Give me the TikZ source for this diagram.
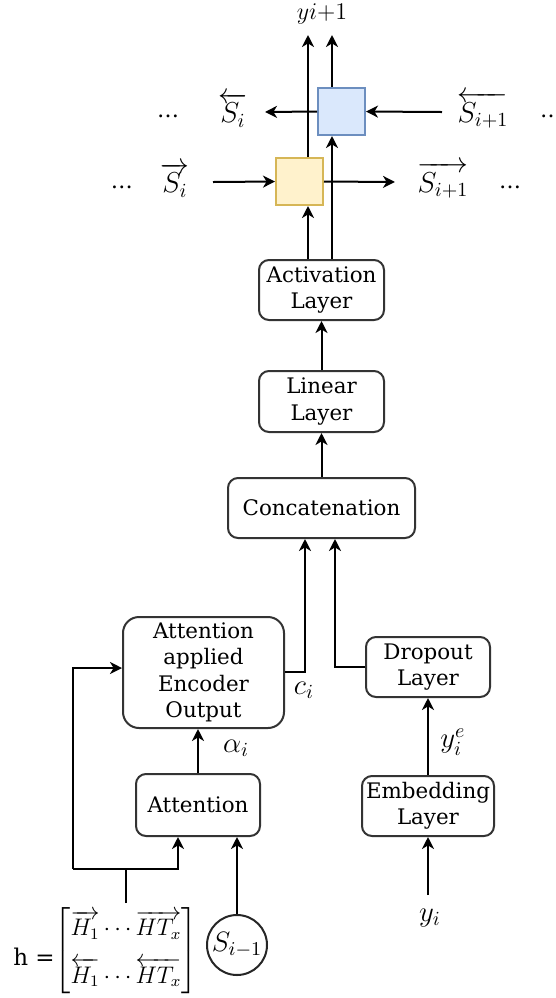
\RequirePackage{fix-cm}
\documentclass[tikz,border=0pt]{standalone}
\usepackage{fontspec}
\setmainfont{DejaVu Serif}
\usepackage{amsmath}
\usetikzlibrary{arrows.meta,calc}
\begin{document}
\begin{tikzpicture}[x=0.5pt,y=-0.5pt,
  arr/.style={-{Stealth[length=6pt,width=6pt,inset=1.8pt]}, line width=1pt},
  ln/.style={line width=1pt},
  box/.style={draw=black!80, line width=1pt, rounded corners=5pt, align=center, font=\fontsize{10.7}{13.2}\selectfont, inner sep=0pt},
  lbl/.style={inner sep=0pt, font=\fontsize{14.4}{16}\selectfont},
  dots/.style={inner sep=0pt, font=\fontsize{11}{13}\selectfont}]
\useasboundingbox (0,0) rectangle (556,998);
% boxes
\node[box, minimum width=62.5pt, minimum height=30pt] (act) at (321.5,290) {Activation\\Layer};
\node[box, minimum width=62.5pt, minimum height=30.5pt] (lin) at (321.5,401.5) {Linear\\Layer};
\node[box, minimum width=93.5pt, minimum height=30pt] (cat) at (321.5,508) {Concatenation};
\node[box, minimum width=80.5pt, minimum height=55.5pt, rounded corners=8pt] (aeo) at (203.5,672.5) {Attention\\applied\\Encoder\\Output};
\node[box, minimum width=62pt, minimum height=30pt] (drop) at (428,667) {Dropout\\Layer};
\node[box, minimum width=66pt, minimum height=30pt] (emb) at (428,806) {Embedding\\Layer};
\node[box, minimum width=62pt, minimum height=31pt] (att) at (198,805) {Attention};
\node[draw=black!85, line width=1pt, circle, minimum size=30pt, inner sep=0pt, font=\fontsize{14}{16}\selectfont] (s) at (237,945) {$S_{i-1}$};
\node[draw={rgb,255:red,214;green,182;blue,86}, fill={rgb,255:red,255;green,242;blue,204}, line width=1pt, minimum size=23.5pt, inner sep=0pt] (yel) at (299.5,181.5) {};
\node[draw={rgb,255:red,108;green,142;blue,191}, fill={rgb,255:red,218;green,232;blue,252}, line width=1pt, minimum size=23.5pt, inner sep=0pt] (blu) at (341.5,111.5) {};
% labels
\node[lbl, font=\fontsize{12}{14}\selectfont] (yout) at (322,14) {$y i{+}1$};
\node[dots] (d1) at (168,116) {\dots};
\node[lbl] (sbl) at (233,110) {$\overleftarrow{S_i}$};
\node[lbl] (sbr) at (483,110) {$\overleftarrow{S_{i+1}}$};
\node[dots] (d2) at (551,116) {\dots};
\node[dots] (d3) at (122,187) {\dots};
\node[lbl] (sfl) at (175,180) {$\overrightarrow{S_i}$};
\node[lbl] (sfr) at (443,180) {$\overrightarrow{S_{i+1}}$};
\node[dots] (d4) at (510,187) {\dots};
\node[lbl] (ci) at (304,690) {$c_i$};
\node[lbl] (al) at (236,748) {$\alpha_i$};
\node[lbl] (ye) at (453,742) {$y_i^e$};
\node[lbl] (yi) at (430,918) {$y_i$};
\node[inner sep=0pt, font=\fontsize{11.5}{14}\selectfont] (heq) at (34,957) {h =};
\node[inner sep=0pt, font=\fontsize{12}{14}\selectfont] (hm) at (126,951) {$\left[\begin{matrix}\overrightarrow{H_1}\cdots\overrightarrow{HT_x}\\[7pt] \overleftarrow{H_1}\cdots\overleftarrow{HT_x}\end{matrix}\right]$};
% coordinates
\coordinate (pl) at (308,0);
\coordinate (pr) at (332,0);
\coordinate (top) at (0,35);
\coordinate (bl) at (265,112);
\coordinate (br) at (442,112);
\coordinate (fl) at (213,182);
\coordinate (fr) at (395,182);
\coordinate (cl) at (305,0);
\coordinate (cr) at (335,0);
\coordinate (hx) at (126,903);
\coordinate (hy) at (0,869);
\coordinate (lx) at (73,0);
\coordinate (ax) at (178,0);
\coordinate (yb) at (428,895);
% connectors
\draw[arr] (act.north -| pl) -- (yel.south -| pl);
\draw[arr] (yel.north -| pl) -- (top -| pl);
\draw[arr] (act.north -| pr) -- (blu.south -| pr);
\draw[arr] (blu.north -| pr) -- (top -| pr);
\draw[arr] (br) -- (blu.east);
\draw[arr] (blu.west) -- (bl);
\draw[arr] (fl) -- (yel.west);
\draw[arr] (yel.east) -- (fr);
\draw[arr] (lin) -- (act);
\draw[arr] (cat) -- (lin);
\draw[arr] (aeo.east |- 0,672) -| (cat.south -| cl);
\draw[arr] (drop.west) -| (cat.south -| cr);
\draw[arr] (emb) -- (drop);
\draw[arr] (yb) -- (emb);
\draw[arr] (att.north) -- (att.north |- aeo.south);
\draw[arr] (s) -- (att.south -| s);
\draw[ln] (hx) -- (hx |- hy);
\draw[arr] (lx |- hy) -| (att.south -| ax);
\draw[arr] (lx |- hy) |- (aeo.west |- 0,668);
\end{tikzpicture}
\end{document}
